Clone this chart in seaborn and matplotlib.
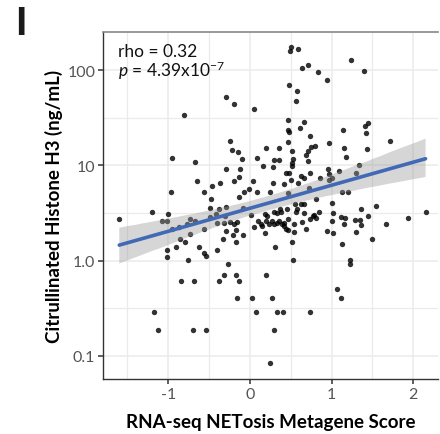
import numpy as np
import pandas as pd
import matplotlib
matplotlib.use("Agg")
import matplotlib.pyplot as plt
from matplotlib.ticker import FixedLocator
import seaborn as sns

# RNA-seq NETosis metagene score per sample
metagene_score = [
    -0.29, -0.20, 0.05, -0.81, -0.24, -0.22, -0.15, 0.20, -0.10, -0.95,
    0.09, 0.50, 0.49, 0.59, 1.24, 0.64, 0.71, 0.83, 1.40, 0.94,
    0.48, 0.58, 0.56, 0.47, 0.66, 0.47, 0.48, 0.61, 1.14, 1.41,
    1.45, 1.42, 0.74, 0.47, 1.71, 0.36, 0.51, 0.75, 0.80, 0.97,
    1.15, 1.43, 0.71, 0.69, 1.17, 0.53, -0.67, 0.30, 0.35, 0.16,
    0.28, -0.29, -0.12, -0.13, -0.20, -0.65, -0.37, -0.47, -0.56, 0.04,
    0.28, 0.42, 0.44, 0.48, 0.50, -0.01, -0.07, 0.09, 0.24, -0.13,
    -0.48, 0.52, 0.52, 0.71, 0.73, 0.96, 0.97, 1.09, 1.34, 1.30,
    0.63, 0.66, 0.59, 0.86, 1.01, 0.97, 0.72, 1.13, 1.20, 0.46,
    0.81, -0.97, -0.49, -0.38, -0.29, -1.20, -1.00, -1.60, -1.08, -1.02,
    -0.95, -0.87, -0.73, -0.77, -0.67, -0.56, -0.49, -0.42, -0.40, -0.32,
    -0.30, -0.25, -0.16, -0.08, 0.01, 0.10, 0.13, 0.19, 0.21, 0.20,
    0.23, 0.27, 0.30, 0.33, 0.36, 0.39, 0.42, 0.29, 0.33, 0.38,
    0.45, -0.29, -0.17, -0.21, -0.09, 0.05, 0.15, 0.19, -0.86, -0.73,
    -0.79, -0.33, -0.17, -1.01, -1.01, -0.90, -0.63, -0.56, -0.54, -0.76,
    -0.40, -0.27, -0.32, -0.17, 0.20, -0.84, -0.68, -0.38, -0.14, -0.16,
    0.02, -1.17, 0.07, -1.13, -0.70, -0.54, 0.24, 0.27, 1.06, 1.12,
    0.33, 0.40, 0.73, 0.30, 0.31, 0.55, 0.63, 0.66, 0.37, 0.57,
    0.56, 1.01, 0.84, 1.02, 0.66, 0.77, 0.79, 0.74, 0.81, 1.11,
    1.16, 1.36, 1.54, 1.44, 1.29, 1.35, 0.46, 0.54, 0.64, 1.01,
    1.15, 1.36, 1.67, 0.42, 0.44, 0.46, 0.54, 0.69, 0.94, 1.02,
    1.30, 0.51, 1.13, 1.49, 0.53, 1.22, 1.23, 2.15, 1.94, -0.20,
]

# Citrullinated histone H3 concentration (ng/mL) for the same samples
histone_h3 = [
    51.7, 44.0, 39.4, 33.4, 18.1, 14.5, 13.8, 15.1, 11.7, 11.9,
    12.0, 173, 158, 165, 129, 105, 114, 96, 97.6, 79,
    70, 61, 47.2, 30.2, 28.4, 23.7, 22.6, 24.6, 23.4, 26.1,
    27.9, 21.8, 20.3, 17.4, 17.9, 15.1, 14.3, 15.5, 16.0, 17.0,
    15.3, 15.0, 14.1, 12.9, 12.3, 11.8, 10.8, 11.35, 11.4, 9.8,
    9.6, 9.2, 9.1, 7.6, 6.9, 6.85, 6.6, 6.0, 5.3, 6.8,
    6.6, 6.4, 8.3, 8.3, 7.1, 5.7, 5.3, 5.3, 5.3, 4.65,
    4.47, 10.7, 9.8, 11.2, 8.4, 9.1, 8.2, 8.65, 10.2, 8.4,
    7.8, 7.4, 6.6, 7.3, 7.3, 7.05, 5.8, 5.2, 5.2, 5.1,
    4.4, 5.2, 3.55, 3.52, 3.66, 3.2, 3.1, 2.7, 2.59, 2.58,
    2.14, 2.26, 2.74, 2.45, 2.58, 2.14, 2.88, 3.05, 2.47, 2.47,
    2.95, 2.55, 2.55, 3.58, 3.0, 2.62, 2.45, 3.07, 2.96, 2.58,
    2.45, 2.58, 2.45, 2.49, 2.58, 2.45, 2.49, 3.2, 3.13, 3.2,
    3.47, 2.05, 2.1, 1.85, 1.85, 2.23, 2.28, 1.94, 1.68, 1.89,
    1.57, 1.69, 1.56, 1.29, 1.1, 1.38, 1.38, 1.2, 1.13, 1.01,
    1.29, 0.92, 0.71, 0.71, 0.71, 0.61, 0.61, 0.61, 0.61, 0.40,
    0.40, 0.29, 0.29, 0.187, 0.187, 0.187, 0.083, 0.40, 0.50, 0.40,
    0.29, 0.29, 0.29, 0.187, 1.39, 3.94, 3.88, 3.88, 3.47, 3.52,
    3.25, 4.07, 3.2, 3.13, 3.13, 2.95, 3.03, 2.7, 2.79, 2.88,
    2.77, 3.49, 3.73, 2.95, 2.66, 2.66, 2.72, 2.45, 2.53, 2.58,
    2.45, 2.35, 2.44, 2.28, 2.14, 2.07, 2.0, 2.14, 2.02, 1.95,
    2.0, 1.57, 1.48, 1.67, 1.02, 1.02, 0.93, 3.2, 2.77, 2.44,
]

x_breaks = [-1, 0, 1, 2]
y_breaks = [0.1, 1.0, 10, 100]
y_break_labels = ["0.1", "1.0", "10", "100"]
rho_label = "rho = 0.32"
p_label = r"$p$ = 4.39x10$^{-7}$"
x_title = "RNA-seq NETosis Metagene Score"
y_title = "Citrullinated Histone H3 (ng/mL)"

df = pd.DataFrame({"score": metagene_score, "h3": histone_h3})
# fit and draw on the log10 scale, as a log-transformed axis would
df["log_h3"] = np.log10(df["h3"])

sns.set_theme(style="white")
plt.rcParams["font.family"] = ["Lato", "DejaVu Sans"]
plt.rcParams["mathtext.fontset"] = "custom"
plt.rcParams["mathtext.rm"] = "Lato"
plt.rcParams["mathtext.it"] = "Lato:italic"

fig = plt.figure(figsize=(4.4, 4.35), dpi=100)
ax = fig.add_axes([0.234, 0.126, 0.761, 0.798])

sns.regplot(
    data=df, x="score", y="log_h3", ax=ax, ci=95, n_boot=2000, seed=3,
    scatter_kws=dict(s=15, color="black", linewidths=0),
    line_kws=dict(color="#4169B5", lw=2.6),
)
# grey confidence ribbon
band = ax.collections[1]
band.set_facecolor("#999999")
band.set_alpha(0.4)
band.set_edgecolor("none")

ax.set_xlim(-1.80, 2.30)
ax.set_ylim(-1.246, 2.40)

ax.xaxis.set_major_locator(FixedLocator(x_breaks))
ax.xaxis.set_minor_locator(FixedLocator([-1.5, -0.5, 0.5, 1.5]))
ax.yaxis.set_major_locator(FixedLocator(np.log10(y_breaks)))
ax.yaxis.set_minor_locator(FixedLocator([-0.5, 0.5, 1.5]))
ax.set_yticklabels(y_break_labels)
ax.set_xticklabels([f"{b}" for b in x_breaks])

ax.grid(which="major", color="#EBEBEB", lw=1.1)
ax.grid(which="minor", color="#EBEBEB", lw=0.9)
ax.set_axisbelow(True)

for side in ("left", "bottom"):
    ax.spines[side].set_color("#333333")
    ax.spines[side].set_linewidth(1.0)
ax.spines["top"].set_color("#888888")
ax.spines["top"].set_linewidth(1.2)
ax.spines["right"].set_visible(False)

ax.tick_params(axis="both", which="major", length=3.5, width=1.1, color="#333333",
               labelsize=11.5, labelcolor="#555555", pad=2, bottom=True, left=True)
ax.tick_params(axis="both", which="minor", length=0)

ax.set_xlabel(x_title, fontsize=13.5, fontweight="bold", color="black", labelpad=9)
ax.set_ylabel(y_title, fontsize=13.5, fontweight="bold", color="black", labelpad=3)

ax.text(0.045, 0.932, rho_label, transform=ax.transAxes, fontsize=12.5,
        color="#111111", va="baseline", ha="left")
ax.text(0.045, 0.874, p_label, transform=ax.transAxes, fontsize=12.5,
        color="#111111", va="baseline", ha="left")

fig.text(0.034, 0.985, "I", fontsize=27, fontweight="black", color="#1a1a1a",
         va="top", ha="left")

fig.savefig("out.png", dpi=100)
